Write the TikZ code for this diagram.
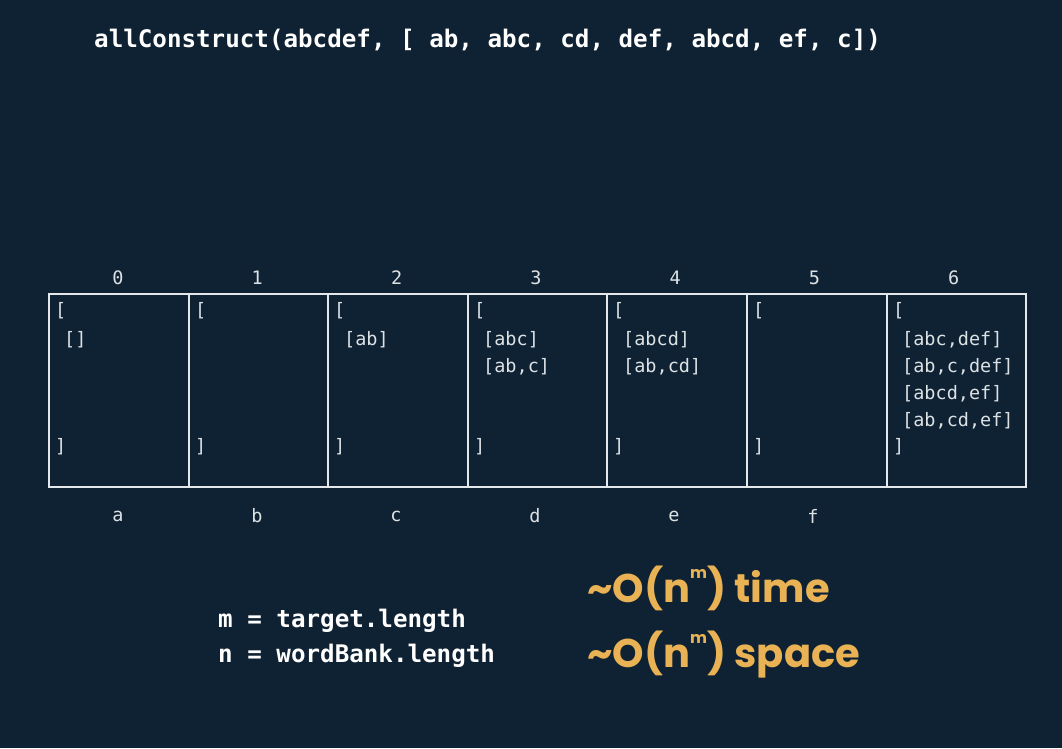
\documentclass[tikz,border=0pt]{standalone}
\usepackage{fontspec}
\newfontfamily\mono{DejaVu Sans Mono}
\newfontfamily\pop{Poppins}
\definecolor{bg}{HTML}{0F2233}
\definecolor{ln}{HTML}{E4E8EB}
\definecolor{tx}{HTML}{DCE1E4}
\definecolor{org}{HTML}{E9B254}
\begin{document}
\begin{tikzpicture}[x=1pt,y=-1pt,
  cell/.style={draw=ln,line width=2pt,minimum height=193pt,anchor=north west,inner sep=0pt},
  ctext/.style={text=tx,anchor=west,inner sep=0pt,font=\mono\fontsize{18.5}{22}\selectfont},
  idx/.style={text=tx,inner sep=0pt,font=\mono\fontsize{18.5}{22}\selectfont},
  code/.style={text=white,anchor=west,inner sep=0pt,font=\mono\bfseries\fontsize{24.2}{28}\selectfont},
  cplx/.style={text=org,anchor=west,inner sep=0pt,font=\pop\bfseries\fontsize{40}{46}\selectfont}]
\fill[bg] (0,0) rectangle (1062,748);
\useasboundingbox (0,0) rectangle (1062,748);
\node[code] (title) at (94,40) {allConstruct(abcdef, [ ab, abc, cd, def, abcd, ef, c])};
% cells
\foreach \i/\x/\w in {0/48/140,1/188/139,2/327/140,3/467/139,4/606/140,5/746/140,6/886/139}{
  \node[cell,minimum width=\w pt] (c\i) at (\x,293) {};
  \node[idx] (i\i) at (118+\i*139.3,278) {\i};
  \node[ctext] (o\i) at (\x+7,311) {[};
  \node[ctext] (e\i) at (\x+7,447) {]};
}
\foreach \i/\l in {0/a,1/b,2/c,3/d,4/e,5/f}{
  \node[idx] (l\i) at (118+\i*139,516) {\l};
}
\node[ctext] (v0a) at (64,340) {[]};
\node[ctext] (v2a) at (344,340) {[ab]};
\node[ctext] (v3a) at (483,340) {[abc]};
\node[ctext] (v3b) at (483,367) {[ab,c]};
\node[ctext] (v4a) at (623,340) {[abcd]};
\node[ctext] (v4b) at (623,367) {[ab,cd]};
\node[ctext] (v6a) at (902,340) {[abc,def]};
\node[ctext] (v6b) at (902,367) {[ab,c,def]};
\node[ctext] (v6c) at (902,394) {[abcd,ef]};
\node[ctext] (v6d) at (902,421) {[ab,cd,ef]};
% bottom
\node[code] (m) at (218,621) {m = target.length};
\node[code] (n) at (218,656) {n = wordBank.length};
\node[cplx] (t) at (587,588) {\textasciitilde O(n\raisebox{0.6em}{\fontsize{16}{18}\selectfont m}) time};
\node[cplx] (s) at (587,655) {\textasciitilde O(n\raisebox{0.6em}{\fontsize{16}{18}\selectfont m}) space};
\end{tikzpicture}
\end{document}
